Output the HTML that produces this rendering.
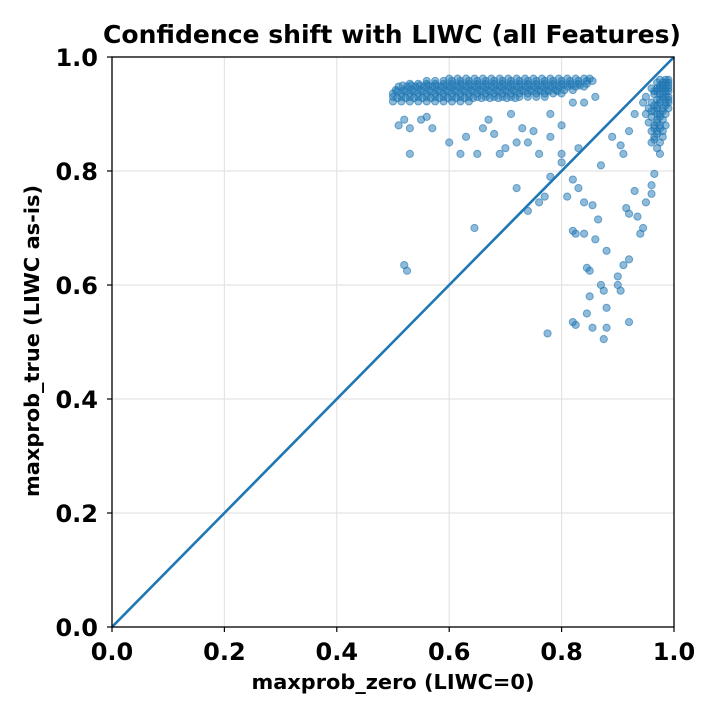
<!DOCTYPE html>
<html><head><meta charset="utf-8">
<style>
html,body{margin:0;padding:0;background:#fff;}
svg text{font-family:"DejaVu Sans","Liberation Sans",sans-serif;font-weight:bold;fill:#000;}
</style></head>
<body>
<svg id="chart" width="720" height="720" viewBox="0 0 720 720">
<rect width="720" height="720" fill="#fff"/>
<g id="grid"></g>
<g id="pts"></g>
<g id="diag"></g>
<rect x="112" y="57" width="562" height="570" fill="none" stroke="#000" stroke-width="1.3"/>
<g id="ticks"></g>
<text x="392" y="43" font-size="25" text-anchor="middle" textLength="578" lengthAdjust="spacingAndGlyphs">Confidence shift with LIWC (all Features)</text>
<text x="393" y="689" font-size="20.5" text-anchor="middle" textLength="283" lengthAdjust="spacingAndGlyphs">maxprob_zero (LIWC=0)</text>
<text x="39" y="341" font-size="20.5" text-anchor="middle" textLength="312" lengthAdjust="spacingAndGlyphs" transform="rotate(-90 39 341)">maxprob_true (LIWC as-is)</text>
</svg>
<script>
const tickValues = [0.0, 0.2, 0.4, 0.6, 0.8, 1.0];
const tickLabels = ["0.0", "0.2", "0.4", "0.6", "0.8", "1.0"];
const bandRowY = [0.922, 0.93, 0.936, 0.942, 0.948, 0.953, 0.958, 0.962, 0.928, 0.94, 0.95];
const bandRowX = [
  [0.50,0.515,0.53,0.545,0.56,0.575,0.59,0.605,0.62,0.635],
  [0.50,0.515,0.53,0.545,0.56,0.575,0.59,0.605,0.62,0.635,0.65,0.665,0.68,0.695,0.71,0.725,0.74,0.755,0.77],
  [0.50,0.515,0.53,0.545,0.56,0.575,0.59,0.605,0.62,0.635,0.65,0.665,0.68,0.695,0.71,0.725,0.74,0.755,0.77,0.785,0.80],
  [0.505,0.52,0.535,0.55,0.565,0.58,0.595,0.61,0.625,0.64,0.655,0.67,0.685,0.70,0.715,0.73,0.745,0.76,0.775,0.79,0.805,0.82],
  [0.51,0.525,0.54,0.555,0.57,0.585,0.60,0.615,0.63,0.645,0.66,0.675,0.69,0.705,0.72,0.735,0.75,0.765,0.78,0.795,0.81,0.825,0.84],
  [0.53,0.545,0.56,0.575,0.59,0.605,0.62,0.635,0.65,0.665,0.68,0.695,0.71,0.725,0.74,0.755,0.77,0.785,0.80,0.815,0.83,0.845],
  [0.56,0.575,0.59,0.605,0.62,0.635,0.65,0.665,0.68,0.695,0.71,0.725,0.74,0.755,0.77,0.785,0.80,0.815,0.83,0.845,0.855],
  [0.60,0.615,0.63,0.645,0.66,0.675,0.69,0.705,0.72,0.735,0.75,0.765,0.78,0.795,0.81,0.825,0.84,0.85],
  [0.5075,0.5225,0.5375,0.5525,0.5675,0.5825,0.5975,0.6125,0.6275,0.6425,0.6575,0.6725,0.6875,0.7025,0.7175],
  [0.5075,0.5225,0.5375,0.5525,0.5675,0.5825,0.5975,0.6125,0.6275,0.6425,0.6575,0.6725,0.6875,0.7025,0.7175,0.7325,0.7475,0.7625,0.7775,0.7925],
  [0.5175,0.5325,0.5475,0.5625,0.5775,0.5925,0.6075,0.6225,0.6375,0.6525,0.6675,0.6825,0.6975,0.7125,0.7275,0.7425,0.7575,0.7725,0.7875,0.8025,0.8175,0.8325]
];
const maxprobZero = [0.985,0.98,0.975,0.97,0.965,0.99,0.99,0.99,0.985,0.98,0.975,0.97,0.965,0.96,0.985,0.98,0.975,0.97,0.965,0.96,0.955,0.98,0.975,0.97,0.965,0.98,0.985,0.99,0.99,0.985,0.975,0.97,0.96,0.95,0.945,0.96,0.955,0.96,0.97,0.975,
  0.99,0.985,0.98,0.975,0.97,0.965,0.99,0.985,0.98,0.975,0.97,0.99,0.985,0.98,0.975,0.97,0.965,0.98,0.975,0.97,0.99,0.985,0.98,0.975,0.97,0.965,0.96,0.975,0.97,0.965,
  0.52,0.525,0.645,0.72,0.74,0.76,0.77,0.775,0.78,0.80,0.81,0.82,0.82,0.825,0.83,0.84,0.84,0.845,0.85,0.85,0.855,0.86,0.865,0.87,0.875,0.88,0.82,0.825,0.845,0.855,0.875,0.88,0.88,0.90,0.90,0.91,0.905,0.92,0.915,0.92,0.92,0.93,0.935,0.94,0.945,0.95,0.96,0.96,0.965,0.905,0.91,0.89,0.87,0.83,0.80,0.78,0.76,0.75,0.74,0.73,0.72,0.70,0.69,0.68,0.66,0.65,0.62,0.60,0.57,0.55,0.53,0.52,0.51,0.53,0.56,0.63,0.67,0.71,0.78,0.80,0.82,0.84,0.86,0.92,0.93,0.95];
const maxprobTrue = [0.96,0.955,0.95,0.945,0.94,0.95,0.94,0.93,0.92,0.91,0.90,0.89,0.88,0.87,0.945,0.935,0.925,0.915,0.905,0.895,0.885,0.89,0.875,0.865,0.855,0.87,0.90,0.91,0.92,0.88,0.96,0.955,0.945,0.93,0.92,0.92,0.91,0.85,0.84,0.83,
  0.96,0.955,0.95,0.945,0.94,0.935,0.955,0.94,0.93,0.92,0.91,0.925,0.915,0.905,0.895,0.885,0.875,0.86,0.85,0.90,0.945,0.93,0.945,0.935,0.925,0.915,0.905,0.88,0.87,0.86,
  0.635,0.625,0.70,0.77,0.73,0.745,0.755,0.515,0.79,0.815,0.755,0.785,0.695,0.69,0.77,0.745,0.69,0.63,0.625,0.58,0.74,0.68,0.715,0.60,0.59,0.66,0.535,0.53,0.55,0.525,0.505,0.525,0.56,0.615,0.60,0.635,0.59,0.645,0.735,0.725,0.535,0.765,0.72,0.69,0.70,0.745,0.775,0.76,0.795,0.845,0.83,0.86,0.81,0.84,0.83,0.86,0.83,0.87,0.85,0.875,0.85,0.84,0.83,0.865,0.875,0.83,0.83,0.85,0.875,0.89,0.875,0.89,0.88,0.83,0.895,0.86,0.89,0.90,0.90,0.88,0.92,0.92,0.93,0.87,0.90,0.90];

const NS = "http://www.w3.org/2000/svg";
const X0 = 112, X1 = 674, Y0 = 627, Y1 = 57;
function sx(v){ return X0 + v * (X1 - X0); }
function sy(v){ return Y0 - v * (Y0 - Y1); }
function mk(tag, attrs, parent){ const e = document.createElementNS(NS, tag); for (const k in attrs) e.setAttribute(k, attrs[k]); parent.appendChild(e); return e; }

const grid = document.getElementById('grid');
const ticks = document.getElementById('ticks');
tickValues.forEach((t, i) => {
  const gv = mk('line', {x1: sx(t), x2: sx(t), y1: Y1, y2: Y0, stroke: '#e3e3e3', 'stroke-width': 1.2}, grid);
  
  
  const gh = mk('line', {x1: X0, x2: X1, y1: sy(t), y2: sy(t), stroke: '#e3e3e3', 'stroke-width': 1.2}, grid);
  
  
  const tx = mk('line', {x1: sx(t), x2: sx(t), y1: Y0, y2: Y0 + 5, stroke: '#000', 'stroke-width': 1.2}, ticks);
  
  
  const ty = mk('line', {x1: X0 - 5, x2: X0, y1: sy(t), y2: sy(t), stroke: '#000', 'stroke-width': 1.2}, ticks);
  
  
  const lx = mk('text', {x: sx(t), y: Y0 + 33, 'font-size': 24, 'text-anchor': 'middle'}, ticks);
  lx.textContent = tickLabels[i];
  
  
  const ly = mk('text', {x: X0 - 14, y: sy(t) + 9, 'font-size': 24, 'text-anchor': 'end'}, ticks);
  ly.textContent = tickLabels[i];
  
  
});

const pts = document.getElementById('pts');
function dot(x, y){
  const c = mk('circle', {cx: sx(x), cy: sy(y), r: 3.6, fill: 'rgba(31,119,180,0.5)', stroke: 'rgba(31,119,180,0.6)', 'stroke-width': 1}, pts);
  
  
}
bandRowY.forEach((y, r) => bandRowX[r].forEach(x => dot(x, y)));
maxprobZero.forEach((x, i) => dot(x, maxprobTrue[i]));

const dl = mk('line', {x1: sx(0), y1: sy(0), x2: sx(1), y2: sy(1), stroke: '#1f77b4', 'stroke-width': 2.6}, document.getElementById('diag'));


</script>
</body></html>
